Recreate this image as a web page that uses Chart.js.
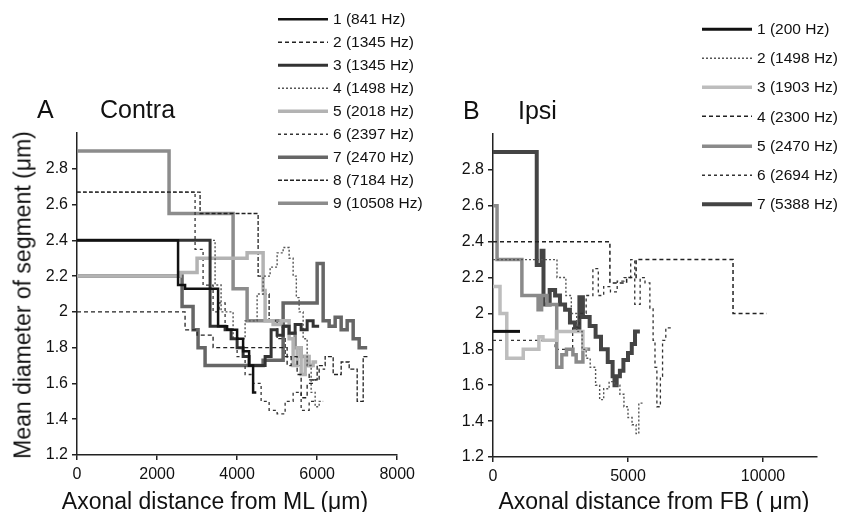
<!DOCTYPE html>
<html>
<head>
<meta charset="utf-8">
<script src="https://cdn.jsdelivr.net/npm/chart.js@4.4.1/dist/chart.umd.min.js"></script>
<style>
  html, body { margin: 0; padding: 0; background: #fff; }
  body { width: 846px; height: 512px; position: relative; overflow: hidden; font-family: "Liberation Sans", Arial, sans-serif; color: #111; }
  canvas { position: absolute; top: 0; }
  #chartA { left: 0; }
  #chartB { left: 420px; }
  .label { position: absolute; white-space: nowrap; line-height: 1; transform: translateY(-50%); }
  .panel { font-size: 25px; }
  .axis-title { font-size: 23px; transform: translate(-50%, -50%); }
  .y-title { transform: translate(-50%, -50%) rotate(-90deg); }
  .legend-row { position: absolute; display: flex; align-items: center; white-space: nowrap; font-size: 15.5px; line-height: 1; transform: translateY(-50%); }
  .legend-row svg { margin-right: 5px; }
</style>
</head>
<body>
<canvas id="chartA" width="420" height="512"></canvas>
<canvas id="chartB" width="426" height="512"></canvas>

<div class="label panel" style="left:37px; top:109px">A</div>
<div class="label panel" style="left:100px; top:109px">Contra</div>
<div class="label panel" style="left:463px; top:110px">B</div>
<div class="label panel" style="left:518px; top:110px">Ipsi</div>

<div class="label axis-title y-title" style="left:23px; top:295px">Mean diameter of segment (μm)</div>
<div class="label axis-title" style="left:215px; top:501px">Axonal distance from ML (μm)</div>
<div class="label axis-title" style="left:654px; top:501px">Axonal distance from FB ( μm)</div>

<div id="legendA"></div>
<div id="legendB"></div>

<script>
// x arrays: start of each segment, last entry is the end of the axon
// y arrays: mean diameter of each segment (µm)

const diameterTicks = [1.2, 1.4, 1.6, 1.8, 2.0, 2.2, 2.4, 2.6, 2.8]
const contraDistanceTicks = [0, 2000, 4000, 6000, 8000]
const ipsiDistanceTicks = [0, 5000, 10000]

const contraLabels = ["1 (841 Hz)", "2 (1345 Hz)", "3 (1345 Hz)", "4 (1498 Hz)", "5 (2018 Hz)", "6 (2397 Hz)", "7 (2470 Hz)", "8 (7184 Hz)", "9 (10508 Hz)"]

const contra1X = [0, 2525, 2700, 3525, 3750, 4000, 4150, 4300, 4400, 4480]
const contra1Y = [2.4, 2.15, 2.13, 1.92, 1.9, 1.85, 1.78, 1.7, 1.55]

const contra2X = [0, 2700, 3000, 3400, 5250, 5350, 5500, 5600, 5750, 5900, 6050, 6200]
const contra2Y = [2.0, 1.9, 1.87, 1.8, 1.7, 1.75, 1.65, 1.52, 1.6, 1.62, 1.68]

const contra3X = [0, 3325, 3700, 3850, 4000, 4150, 4300, 4700, 4850, 5000, 5150, 5300, 5450, 5600, 5750, 5900, 6050]
const contra3Y = [2.4, 1.92, 1.9, 1.85, 1.8, 1.75, 1.7, 1.75, 1.9, 1.87, 1.92, 1.88, 1.93, 1.9, 1.95, 1.92]

const contra4X = [0, 3450, 3600, 3900, 4200, 4500, 4650, 4825, 5000, 5150, 5300, 5400, 5480, 5550, 5650, 5750, 5850, 5950, 6050, 6150]
const contra4Y = [2.4, 2.15, 2.0, 1.85, 1.95, 2.1, 2.2, 2.25, 2.33, 2.36, 2.3, 2.2, 2.08, 2.0, 1.85, 1.7, 1.55, 1.47, 1.5]

const contra5X = [0, 2575, 3000, 4250, 4650, 4700, 4900, 5100, 5300, 5400, 5500, 5600, 5700, 5800, 5900, 6000]
const contra5Y = [2.2, 2.22, 2.3, 2.33, 2.12, 1.95, 1.93, 1.95, 1.85, 1.7, 1.8, 1.65, 1.75, 1.7, 1.72]

const contra6X = [0, 2950, 3150, 3400, 3550, 3700, 3850, 4000, 4200, 4400, 4600, 4800, 5000, 5200, 5400, 5600, 5800, 5950]
const contra6Y = [2.67, 2.35, 2.15, 2.0, 2.05, 1.9, 1.85, 1.75, 1.65, 1.6, 1.5, 1.45, 1.43, 1.5, 1.55, 1.45, 1.5]

const contra7X = [0, 2625, 2900, 3025, 3200, 4650, 5150, 6000, 6150, 6300, 6450, 6600, 6750, 6900, 7050, 7250]
const contra7Y = [2.2, 2.03, 1.9, 1.8, 1.7, 1.73, 2.05, 2.27, 1.95, 1.92, 1.97, 1.9, 1.95, 1.85, 1.8]

const contra8X = [0, 3075, 4525, 4650, 4800, 5000, 5200, 5400, 5600, 5800, 6000, 6200, 6400, 6600, 6800, 7000, 7150, 7300]
const contra8Y = [2.67, 2.55, 2.2, 2.1, 1.95, 1.85, 1.75, 1.7, 1.65, 1.62, 1.7, 1.75, 1.65, 1.72, 1.68, 1.5, 1.75]

const contra9X = [0, 2300, 3900, 4250, 5150, 5300, 5450, 5600, 5750, 5900]
const contra9Y = [2.9, 2.55, 2.13, 1.95, 1.92, 1.88, 1.8, 1.75, 1.7]

const ipsiLabels = ["1 (200 Hz)", "2 (1498 Hz)", "3 (1903 Hz)", "4 (2300 Hz)", "5 (2470 Hz)", "6 (2694 Hz)", "7 (5388 Hz)"]

const ipsi1X = [0, 1000]
const ipsi1Y = [1.9]

const ipsi2X = [0, 2370, 2700, 2900, 3100, 3300, 3450, 3600, 3800, 3950, 4100, 4300, 4500, 4700, 4850, 5000, 5150, 5300, 5400, 5550]
const ipsi2Y = [2.3, 2.2, 2.1, 2.0, 1.9, 1.8, 1.75, 1.7, 1.6, 1.52, 1.58, 1.62, 1.6, 1.55, 1.48, 1.42, 1.38, 1.33, 1.5]

const ipsi3X = [0, 260, 510, 1120, 1700, 1850, 2350, 3330, 3500]
const ipsi3Y = [2.15, 2.0, 1.75, 1.8, 1.87, 1.85, 1.9, 1.8]

const ipsi4X = [0, 4330, 4950, 5300, 8890, 10140]
const ipsi4Y = [2.4, 2.17, 2.2, 2.3, 2.0]

const ipsi5X = [0, 150, 1070, 1670, 1800, 2000, 2360, 2550, 2720, 2960, 3080, 3330, 3600]
const ipsi5Y = [2.6, 2.3, 2.1, 2.02, 2.1, 2.05, 1.7, 1.77, 1.8, 1.77, 1.73, 1.8]

const ipsi6X = [0, 2300, 2950, 3200, 3450, 3700, 3900, 4100, 4350, 4600, 4850, 5100, 5250, 5450, 5630, 5810, 5930, 6000, 6070, 6200, 6280, 6400, 6600]
const ipsi6Y = [1.85, 1.8, 1.92, 2.0, 2.1, 2.25, 2.1, 2.15, 2.12, 2.18, 2.2, 2.3, 2.05, 2.2, 2.17, 2.03, 1.85, 1.7, 1.48, 1.65, 1.85, 1.92]

const ipsi7X = [0, 1620, 1800, 1870, 2100, 2300, 2480, 2670, 2850, 3040, 3200, 3330, 3580, 3800, 4000, 4250, 4430, 4500, 4580, 4700, 4830, 5000, 5140, 5260, 5440]
const ipsi7Y = [2.9, 2.27, 2.35, 2.05, 2.13, 2.1, 2.05, 2.02, 1.95, 1.92, 2.09, 1.98, 1.93, 1.87, 1.8, 1.73, 1.65, 1.6, 1.65, 1.68, 1.74, 1.78, 1.83, 1.9]

const contraStyles = [
  { color: "#111", width: 2.5, dash: [] },
  { color: "#222", width: 1.3, dash: [4, 3] },
  { color: "#333", width: 3, dash: [] },
  { color: "#555", width: 1.4, dash: [2, 2] },
  { color: "#b3b3b3", width: 3.5, dash: [] },
  { color: "#333", width: 1.3, dash: [3, 3] },
  { color: "#666", width: 3.5, dash: [] },
  { color: "#222", width: 1.3, dash: [4, 2] },
  { color: "#8c8c8c", width: 3.5, dash: [] }
]

const ipsiStyles = [
  { color: "#111", width: 3, dash: [] },
  { color: "#555", width: 1.4, dash: [2, 2] },
  { color: "#bdbdbd", width: 3.5, dash: [] },
  { color: "#222", width: 1.5, dash: [4, 3] },
  { color: "#8a8a8a", width: 3.5, dash: [] },
  { color: "#333", width: 1.3, dash: [3, 3] },
  { color: "#444", width: 4, dash: [] }
]

const tickFont = { family: "'Liberation Sans', Arial, sans-serif", size: 16 }

function stepPoints(xs, ys) {
  const points = ys.map((y, i) => ({ x: xs[i], y }))
  points.push({ x: xs[xs.length - 1], y: ys[ys.length - 1] })
  return points
}

function fixedTicks(values) {
  return (scale) => { scale.ticks = values.map((value) => ({ value })) }
}

function buildChart(canvasId, labels, xsList, ysList, styles, xAxis, frame) {
  const datasets = labels.map((label, i) => ({
    label,
    data: stepPoints(xsList[i], ysList[i]),
    stepped: true,
    borderColor: styles[i].color,
    borderWidth: styles[i].width,
    borderDash: styles[i].dash,
    pointRadius: 0,
    fill: false
  }))

  return new Chart(document.getElementById(canvasId), {
    type: "line",
    data: { datasets },
    options: {
      responsive: false,
      animation: false,
      devicePixelRatio: 1,
      layout: { padding: frame.padding },
      plugins: { legend: { display: false }, tooltip: { enabled: false } },
      scales: {
        x: {
          type: "linear",
          min: xAxis.min,
          max: xAxis.max,
          afterBuildTicks: fixedTicks(xAxis.ticks),
          afterFit: (scale) => { scale.height = 40 },
          border: { color: "#222", width: 1.5 },
          grid: { drawOnChartArea: false, tickLength: 5, color: "#222", lineWidth: 1.5 },
          ticks: {
            autoSkip: false,
            padding: 5,
            maxRotation: 0,
            color: "#111",
            font: tickFont,
            callback: (value) => String(value)
          }
        },
        y: {
          type: "linear",
          min: 1.2,
          max: 3.0,
          afterBuildTicks: fixedTicks(diameterTicks),
          afterFit: (scale) => { scale.width = frame.yWidth },
          border: { color: "#222", width: 1.5 },
          grid: { drawOnChartArea: false, tickLength: 5, lineWidth: 1.5, color: "#222" },
          ticks: {
            autoSkip: false,
            padding: 4,
            color: "#111",
            font: tickFont,
            callback: (value) => String(Math.round(value * 10) / 10)
          }
        }
      }
    }
  })
}

function renderLegend(containerId, labels, styles, left, firstRow, rowGap) {
  const container = document.getElementById(containerId)
  labels.forEach((label, i) => {
    const row = document.createElement("div")
    row.className = "legend-row"
    row.style.left = left + "px"
    row.style.top = (firstRow + i * rowGap) + "px"

    const svg = document.createElementNS("http://www.w3.org/2000/svg", "svg")
    svg.setAttribute("width", "50")
    svg.setAttribute("height", "8")
    const line = document.createElementNS("http://www.w3.org/2000/svg", "line")
    line.setAttribute("x1", "0")
    line.setAttribute("y1", "4")
    line.setAttribute("x2", "50")
    line.setAttribute("y2", "4")
    line.setAttribute("stroke", styles[i].color)
    line.setAttribute("stroke-width", styles[i].width)
    if (styles[i].dash.length) line.setAttribute("stroke-dasharray", styles[i].dash.join(" "))
    svg.appendChild(line)

    const text = document.createElement("span")
    text.textContent = label

    row.appendChild(svg)
    row.appendChild(text)
    container.appendChild(row)
  })
}

buildChart(
  "chartA",
  contraLabels,
  [contra1X, contra2X, contra3X, contra4X, contra5X, contra6X, contra7X, contra8X, contra9X],
  [contra1Y, contra2Y, contra3Y, contra4Y, contra5Y, contra6Y, contra7Y, contra8Y, contra9Y],
  contraStyles,
  { min: 0, max: 8000, ticks: contraDistanceTicks },
  { yWidth: 77, padding: { left: 0, right: 22, top: 133, bottom: 17 } }
)

buildChart(
  "chartB",
  ipsiLabels,
  [ipsi1X, ipsi2X, ipsi3X, ipsi4X, ipsi5X, ipsi6X, ipsi7X],
  [ipsi1Y, ipsi2Y, ipsi3Y, ipsi4Y, ipsi5Y, ipsi6Y, ipsi7Y],
  ipsiStyles,
  { min: 0, max: 12000, ticks: ipsiDistanceTicks },
  { yWidth: 73, padding: { left: 0, right: 29, top: 134, bottom: 15 } }
)

renderLegend("legendA", contraLabels, contraStyles, 278, 19, 23)
renderLegend("legendB", ipsiLabels, ipsiStyles, 702, 29, 29.2)
</script>
</body>
</html>
